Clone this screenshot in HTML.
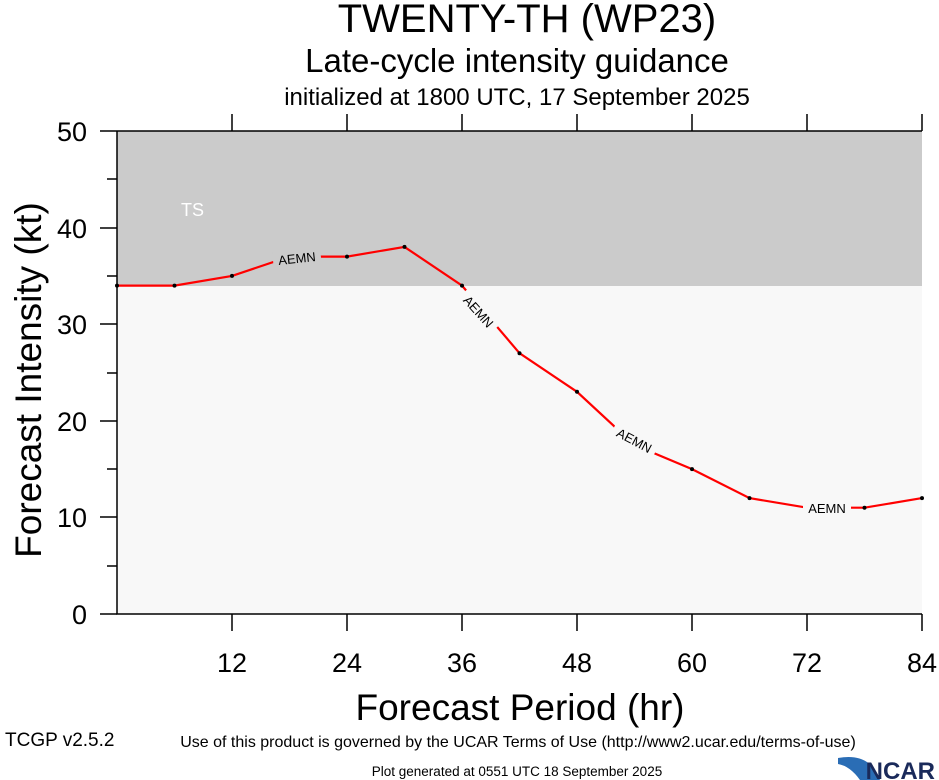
<!DOCTYPE html>
<html><head><meta charset="utf-8"><style>
body{margin:0;background:#fff;}
svg{display:block;font-family:"Liberation Sans",sans-serif;}
</style></head><body>
<svg width="939" height="780" viewBox="0 0 939 780" xmlns="http://www.w3.org/2000/svg">
<rect width="939" height="780" fill="#fff"/>
<text x="527" y="32" font-size="40" text-anchor="middle">TWENTY-TH (WP23)</text>
<text x="517" y="72" font-size="33" text-anchor="middle">Late-cycle intensity guidance</text>
<text x="517" y="105" font-size="24" text-anchor="middle">initialized at 1800 UTC, 17 September 2025</text>
<rect x="117" y="131" width="805" height="155" fill="#cbcbcb"/>
<rect x="117" y="286" width="805" height="328" fill="#f8f8f8"/>
<text x="181" y="216" font-size="18" fill="#fff">TS</text>
<g stroke="#000" stroke-width="1.5" fill="none">
<path d="M117 131V614H922"/>
<path d="M117 131H922"/>
<path d="M100 131H117M100 228H117M100 324H117M100 421H117M100 517H117M100 614H117"/>
<path d="M107 179H117M107 276H117M107 373H117M107 469H117M107 566H117"/>
<path d="M232 114V131M347 114V131M462 114V131M577 114V131M692 114V131M807 114V131M922 114V131"/>
<path d="M232 614V631M347 614V631M462 614V631M577 614V631M692 614V631M807 614V631M922 614V631"/>
</g>
<g font-size="27" text-anchor="end"><text x="87" y="141">50</text><text x="87" y="238">40</text><text x="87" y="334">30</text><text x="87" y="431">20</text><text x="87" y="527">10</text><text x="87" y="624">0</text></g>
<g font-size="27" text-anchor="middle"><text x="232" y="672">12</text><text x="347" y="672">24</text><text x="462" y="672">36</text><text x="577" y="672">48</text><text x="692" y="672">60</text><text x="807" y="672">72</text><text x="922" y="672">84</text></g>
<text x="520" y="720" font-size="37" text-anchor="middle">Forecast Period (hr)</text>
<text transform="translate(41,380) rotate(-90)" font-size="37" text-anchor="middle">Forecast Intensity (kt)</text>
<polyline fill="none" stroke="#f00" stroke-width="2.2" points="117,285.6 174.5,285.6 232,275.9 289.5,256.6 347,256.6 404.5,246.9 462,285.6 519.5,353.2 577,391.8 634.5,445 692,469.1 749.5,498.1 807,507.7 864.5,507.7 922,498.1"/>
<g fill="#000"><circle cx="117" cy="285.6" r="2"/><circle cx="174.5" cy="285.6" r="2"/><circle cx="232" cy="275.9" r="2"/><circle cx="347" cy="256.6" r="2"/><circle cx="404.5" cy="246.9" r="2"/><circle cx="462" cy="285.6" r="2"/><circle cx="519.5" cy="353.2" r="2"/><circle cx="577" cy="391.8" r="2"/><circle cx="692" cy="469.1" r="2"/><circle cx="749.5" cy="498.1" r="2"/><circle cx="807" cy="507.7" r="2"/><circle cx="864.5" cy="507.7" r="2"/><circle cx="922" cy="498.1" r="2"/></g>
<g font-size="13">
<g transform="translate(297,259) rotate(-6)"><rect x="-24" y="-9" width="48" height="15" fill="#cbcbcb"/><text x="0" y="4" text-anchor="middle">AEMN</text></g>
<g transform="translate(478,312) rotate(48)"><rect x="-24" y="-9" width="48" height="15" fill="#f8f8f8"/><text x="0" y="4" text-anchor="middle">AEMN</text></g>
<g transform="translate(634,441) rotate(28)"><rect x="-24" y="-9" width="48" height="15" fill="#f8f8f8"/><text x="0" y="4" text-anchor="middle">AEMN</text></g>
<g transform="translate(827,509)"><rect x="-24" y="-9" width="48" height="15" fill="#f8f8f8"/><text x="0" y="4" text-anchor="middle">AEMN</text></g>
</g>
<text x="518" y="747" font-size="16" text-anchor="middle">Use of this product is governed by the UCAR Terms of Use (http://www2.ucar.edu/terms-of-use)</text>
<text x="5" y="746" font-size="19">TCGP v2.5.2</text>
<text x="517" y="776" font-size="13.5" text-anchor="middle">Plot generated at 0551 UTC   18 September 2025</text>
<path d="M838 758 Q870 752 880 780 L860 780 Q850 766 838 764Z" fill="#2a6db5"/>
<text x="935" y="779" font-size="24" font-weight="bold" text-anchor="end" fill="#1a2a5a">NCAR</text>
</svg>
</body></html>
